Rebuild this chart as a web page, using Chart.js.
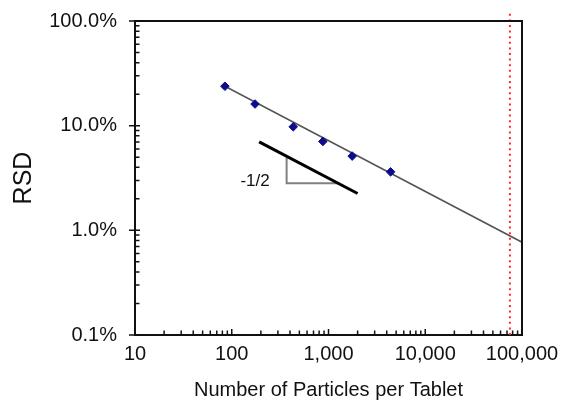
<!DOCTYPE html>
<html>
<head>
<meta charset="utf-8">
<script src="https://cdn.jsdelivr.net/npm/chart.js@4/dist/chart.umd.min.js"></script>
<style>
  html, body { margin: 0; padding: 0; background: #fff; }
  #wrap { width: 561px; height: 404px; }
</style>
</head>
<body>
<div id="wrap"><canvas id="c" width="561" height="404"></canvas></div>
<script>
// ---- data ----
const particles = [85, 174, 432, 875, 1757, 4380];
const rsd = [23.8, 16.1, 9.75, 7.07, 5.12, 3.62];
const fitX = [85, 100000];
const fitY = [23.8, 0.77];
const slopeX = [192, 2000];
const slopeY = [7.0, 2.25];
const triX = [369, 369, 1290];
const triY = [4.95, 2.81, 2.81];
const limitX = [75000, 75000];
const limitY = [0.1, 118];
const slopeLabel = '-1/2';
const slopeLabelX = 174;
const slopeLabelY = 2.91;
const xTicks = [10, 100, 1000, 10000, 100000];
const xTickLabels = ['10', '100', '1,000', '10,000', '100,000'];
const yTicks = [0.1, 1, 10, 100];
const yTickLabels = ['0.1%', '1.0%', '10.0%', '100.0%'];
const xTitle = 'Number of Particles per Tablet';
const yTitle = 'RSD';

const FONT = '"Liberation Sans", Arial, sans-serif';
const toPts = (xs, ys) => xs.map((x, i) => ({x: x, y: ys[i]}));

const decorPlugin = {
  id: 'decor',
  afterDraw(chart) {
    const ctx = chart.ctx;
    const {left, right, top, bottom} = chart.chartArea;
    const xs = chart.scales.x, ys = chart.scales.y;
    ctx.save();
    ctx.strokeStyle = '#111';
    // frame top/right
    ctx.lineWidth = 2;
    ctx.beginPath();
    ctx.moveTo(left, top); ctx.lineTo(right, top); ctx.lineTo(right, bottom);
    ctx.stroke();
    // ticks
    ctx.lineWidth = 1.5;
    ctx.beginPath();
    yTicks.forEach((d, i) => {
      const p = ys.getPixelForValue(d);
      ctx.moveTo(left - 6, p); ctx.lineTo(left + 5, p);
      if (i < yTicks.length - 1) {
        for (let k = 2; k <= 9; k++) {
          const q = ys.getPixelForValue(d * k);
          ctx.moveTo(left, q); ctx.lineTo(left + 4.5, q);
        }
      }
    });
    xTicks.forEach((d, i) => {
      const p = xs.getPixelForValue(d);
      if (i > 0) { ctx.moveTo(p, bottom); ctx.lineTo(p, bottom - 6); }
      if (i < xTicks.length - 1) {
        for (let k = 2; k <= 9; k++) {
          const q = xs.getPixelForValue(d * k);
          ctx.moveTo(q, bottom); ctx.lineTo(q, bottom - 4.5);
        }
      }
    });
    ctx.stroke();
    // slope label
    ctx.fillStyle = '#111';
    ctx.font = '17px ' + FONT;
    ctx.textAlign = 'center';
    ctx.textBaseline = 'middle';
    ctx.fillText(slopeLabel, xs.getPixelForValue(slopeLabelX), ys.getPixelForValue(slopeLabelY));
    ctx.restore();
  }
};

new Chart(document.getElementById('c'), {
  type: 'scatter',
  data: {
    datasets: [
      {
        data: toPts(limitX, limitY), showLine: true, clip: false,
        borderColor: '#ff2a2a', borderWidth: 2, borderDash: [2, 3.6],
        pointRadius: 0, order: 5
      },
      {
        data: toPts(fitX, fitY), showLine: true,
        borderColor: '#555', borderWidth: 1.5, pointRadius: 0, order: 4
      },
      {
        data: toPts(triX, triY), showLine: true,
        borderColor: '#808080', borderWidth: 2, pointRadius: 0, order: 3
      },
      {
        data: toPts(slopeX, slopeY), showLine: true,
        borderColor: '#000', borderWidth: 3, pointRadius: 0, order: 2
      },
      {
        data: toPts(particles, rsd), showLine: false,
        pointStyle: 'rectRot', pointRadius: 4.3,
        backgroundColor: '#0c0c8c', borderColor: '#0c0c8c', borderWidth: 1, order: 1
      }
    ]
  },
  options: {
    responsive: false,
    animation: false,
    devicePixelRatio: 1,
    layout: { padding: { top: 21, right: 39, left: 0, bottom: 0 } },
    plugins: { legend: { display: false }, tooltip: { enabled: false } },
    scales: {
      x: {
        type: 'logarithmic', min: 10, max: 100000,
        afterBuildTicks: s => { s.ticks = xTicks.map(v => ({value: v})); },
        afterFit: s => { s.height = 69; s.paddingLeft = 0; s.paddingRight = 0; },
        ticks: {
          callback: v => xTickLabels[xTicks.indexOf(v)],
          color: '#111', font: { family: FONT, size: 20 }, padding: 7,
          maxRotation: 0, autoSkip: false
        },
        grid: { display: false, drawTicks: false },
        border: { display: true, color: '#111', width: 2 },
        title: {
          display: true, text: xTitle, color: '#111',
          font: { family: FONT, size: 20, lineHeight: 1.2 },
          padding: { top: 0, bottom: 2 }
        }
      },
      y: {
        type: 'logarithmic', min: 0.1, max: 100,
        afterBuildTicks: s => { s.ticks = yTicks.map(v => ({value: v})); },
        afterFit: s => { s.width = 135; s.paddingTop = 0; s.paddingBottom = 0; },
        ticks: {
          callback: v => yTickLabels[yTicks.indexOf(v)],
          color: '#111', font: { family: FONT, size: 20 }, padding: 18,
          autoSkip: false
        },
        grid: { display: false, drawTicks: false },
        border: { display: true, color: '#111', width: 2 },
        title: {
          display: true, text: yTitle, color: '#111',
          font: { family: FONT, size: 25, lineHeight: 1.2 },
          padding: { top: 9, bottom: 0 }
        }
      }
    }
  },
  plugins: [decorPlugin]
});
</script>
</body>
</html>
